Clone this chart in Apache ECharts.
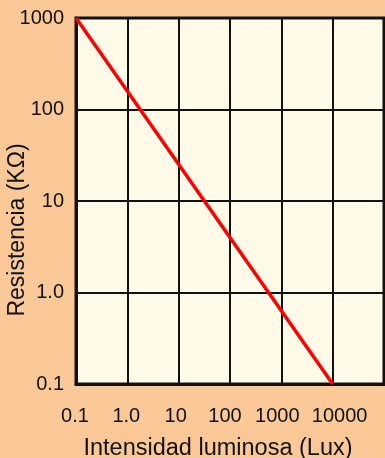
<!DOCTYPE html>
<html>
<head>
<meta charset="utf-8">
<script src="https://cdn.jsdelivr.net/npm/echarts@6/dist/echarts.min.js"></script>
<style>
html,body{margin:0;padding:0;background:#FBC997;}
#chart{width:385px;height:458px;}
</style>
</head>
<body>
<div id="chart"></div>
<script>
// Data
var xTickValues = [0.1, 1, 10, 100, 1000, 10000];
var xTickLabels = ['0.1', '1.0', '10', '100', '1000', '10000'];
var yTickValues = [0.1, 1, 10, 100, 1000];
var yTickLabels = ['0.1', '1.0', '10', '100', '1000'];
var lux = [0.1, 10000];
var resistance = [1000, 0.1];

var font = 'Liberation Sans, Arial, sans-serif';
var tickFont = 20;
// small horizontal nudges of the x tick labels (px), as in the reference
var xLabelShift = [-1, -1, -3, -5, -4, 7];
var xRich = {};
xLabelShift.forEach(function (s, i) {
  xRich['s' + i] = {
    fontSize: tickFont, color: '#111', fontFamily: font,
    padding: s >= 0 ? [0, 0, 0, 2 * s] : [0, -2 * s, 0, 0]
  };
});

function indexFor(values, v) {
  var e = Math.round(Math.log10(v));
  for (var i = 0; i < values.length; i++) {
    if (Math.round(Math.log10(values[i])) === e) return i;
  }
  return -1;
}

var chart = echarts.init(document.getElementById('chart'), null, {renderer: 'canvas'});
chart.setOption({
  animation: false,
  backgroundColor: '#FBC997',
  grid: {
    left: 76, top: 18, right: 1, bottom: 74,
    containLabel: false, outerBoundsMode: 'none',
    show: true, backgroundColor: '#FFFBE8',
    borderColor: '#111', borderWidth: 3
  },
  xAxis: {
    type: 'log', logBase: 10, min: 0.1, max: 100000,
    name: 'Intensidad luminosa (Lux)',
    nameLocation: 'middle', nameGap: 53, nameMoveOverlap: false,
    nameTextStyle: {fontSize: 23.5, color: '#111', fontFamily: font, padding: [0, 24, 0, 0]},
    axisLine: {show: true, lineStyle: {color: '#111', width: 3}},
    axisTick: {show: false},
    minorTick: {show: false},
    splitLine: {show: true, lineStyle: {color: '#111', width: 2}},
    axisLabel: {fontSize: tickFont, color: '#111', fontFamily: font, margin: 22, hideOverlap: false,
      rich: xRich,
      formatter: function (v) {
        var i = indexFor(xTickValues, v);
        return i < 0 ? '' : '{s' + i + '|' + xTickLabels[i] + '}';
      }}
  },
  yAxis: {
    type: 'log', logBase: 10, min: 0.1, max: 1000,
    name: 'Resistencia (KΩ)',
    nameLocation: 'middle', nameGap: 47, nameMoveOverlap: false,
    nameTextStyle: {fontSize: 23, color: '#111', fontFamily: font, padding: [0, 58, 0, 0]},
    axisLine: {show: true, lineStyle: {color: '#111', width: 3}},
    axisTick: {show: false},
    splitLine: {show: true, lineStyle: {color: '#111', width: 2}},
    axisLabel: {fontSize: tickFont, color: '#111', fontFamily: font, margin: 12,
      formatter: function (v) {
        var i = indexFor(yTickValues, v);
        return i < 0 ? '' : yTickLabels[i];
      }}
  },
  series: [{
    type: 'line',
    data: lux.map(function (x, i) { return [x, resistance[i]]; }),
    showSymbol: false,
    lineStyle: {color: '#FF0000', width: 3.5},
    clip: false
  }]
});
</script>
</body>
</html>
